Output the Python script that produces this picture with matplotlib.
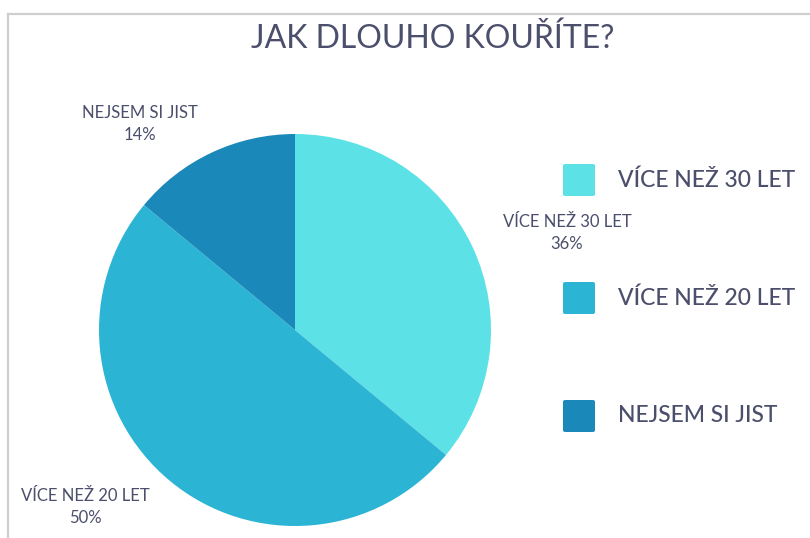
import matplotlib
matplotlib.use("Agg")
import matplotlib.pyplot as plt
from matplotlib.patches import FancyBboxPatch
from matplotlib.lines import Line2D

plt.rcParams["font.family"] = ["Lato", "DejaVu Sans"]

labels = ["VÍCE NEŽ 30 LET", "VÍCE NEŽ 20 LET", "NEJSEM SI JIST"]
values = [36, 50, 14]
colors = ["#5CE1E6", "#2CB4D5", "#1A89BA"]
TXT = "#4B4F6B"

W, H = 810, 538
fig = plt.figure(figsize=(W / 100, H / 100), dpi=100)

def fx(x): return x / W
def fy(y): return 1 - y / H

# frame lines (left + top)
fig.add_artist(Line2D([fx(8), fx(8)], [fy(14), 0], color="#cfcfcf", lw=1.6))
fig.add_artist(Line2D([fx(8), 1], [fy(14), fy(14)], color="#cfcfcf", lw=1.6))

fig.text(fx(433), fy(39), "JAK DLOUHO KOUŘÍTE?", ha="center", va="center",
         fontsize=23, color=TXT)

# pie: centre (295, 330), radius 196 px
ax = fig.add_axes([fx(99), fy(526), 392 / W, 392 / H])
ax.pie(values, colors=colors, startangle=90, counterclock=False,
       wedgeprops=dict(linewidth=0))
ax.set_xlim(-1, 1)
ax.set_ylim(-1, 1)
ax.set_aspect("equal")
ax.axis("off")

# slice labels
lab_pos = [(567, 233), (85, 507), (140, 124)]
for (x, y), lab, v in zip(lab_pos, labels, values):
    fig.text(fx(x), fy(y), f"{lab}\n{v}%", ha="center", va="center",
             fontsize=12, color=TXT, linespacing=1.5)

# legend
leg_y = [180, 298, 416]
for y, lab, c in zip(leg_y, labels, colors):
    fig.add_artist(FancyBboxPatch((fx(563), fy(y + 16)), 32 / W, 32 / H,
                                  boxstyle="round,pad=0,rounding_size=0.003",
                                  transform=fig.transFigure, color=c, lw=0))
    fig.text(fx(618), fy(y), lab, ha="left", va="center", fontsize=16.5, color=TXT,
             fontweight="medium")

fig.savefig("out.png", dpi=100)
